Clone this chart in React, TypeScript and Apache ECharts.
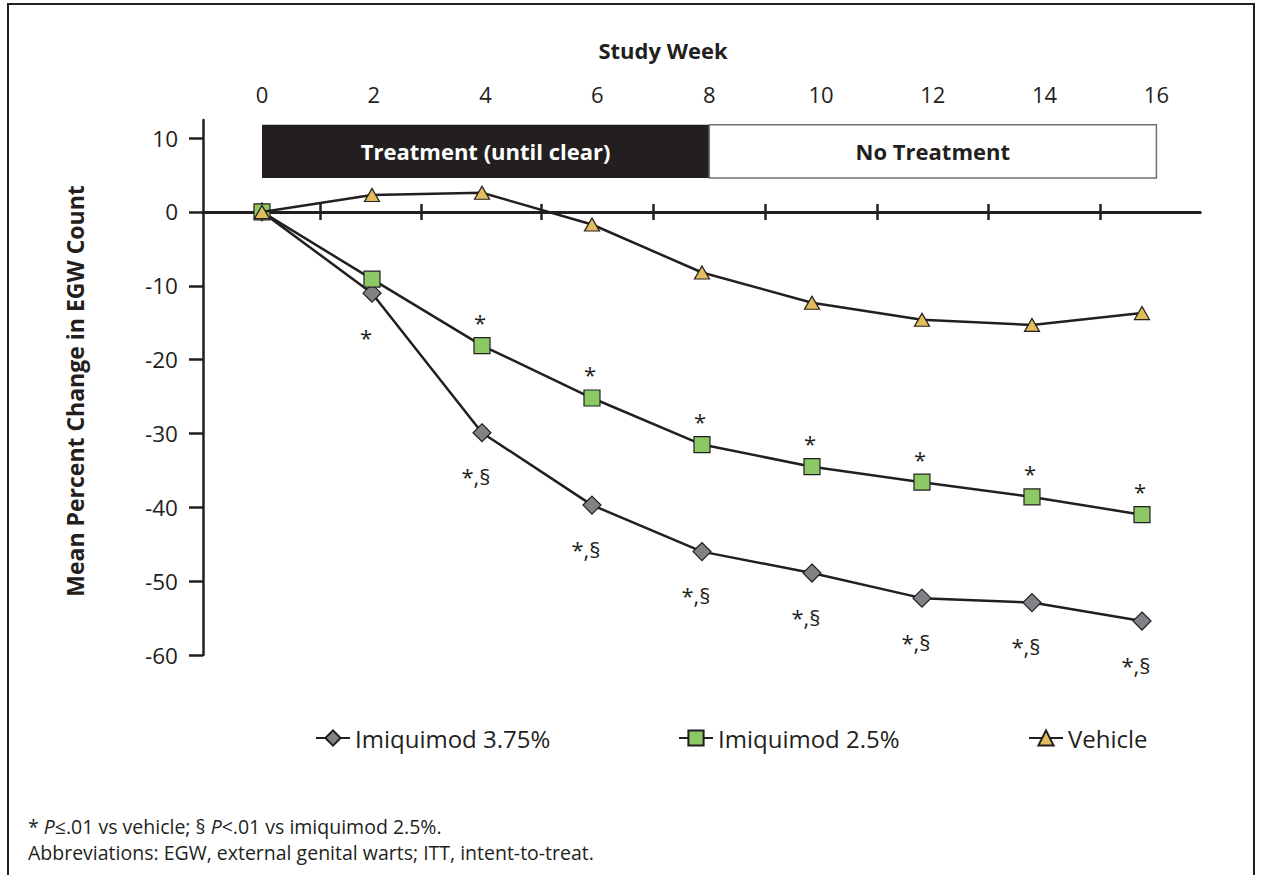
import React, { useEffect, useRef } from "react";
import * as echarts from "echarts";

// ---- data ----
const weeks = [0, 2, 4, 6, 8, 10, 12, 14, 16];
const imiq375 = [0, -11.0, -29.9, -39.7, -46.0, -48.9, -52.3, -52.9, -55.4];
const imiq25 = [0, -9.1, -18.1, -25.2, -31.5, -34.5, -36.6, -38.6, -41.0];
const vehicle = [0, 2.3, 2.6, -1.7, -8.2, -12.3, -14.6, -15.3, -13.7];
const sig375 = ["", "*", "*,§", "*,§", "*,§", "*,§", "*,§", "*,§", "*,§"];
const sig25 = ["", "", "*", "*", "*", "*", "*", "*", "*"];
const seriesNames = ["Imiquimod 3.75%", "Imiquimod 2.5%", "Vehicle"];
const weekTicks = [0, 2, 4, 6, 8, 10, 12, 14, 16];
const yTicks = [-60, -50, -40, -30, -20, -10, 0, 10];
const zeroLineTicks = [1.05, 2.85, 5, 7, 9, 11, 13, 15];
const phaseNames = ["Treatment (until clear)", "No Treatment"];
const phaseFrom = [0, 8];
const phaseTo = [8, 16];

const INK = "#231f20";
const FONT = "'Open Sans', 'Noto Sans', sans-serif";

export default function App() {
  const ref = useRef<HTMLDivElement>(null);
  useEffect(() => {
    document.body.style.margin = "0";
    const chart = echarts.init(ref.current!, null, { renderer: "svg" });

    const mk = (vals: number[], sig: string[]) =>
      weeks.map((w, i) => ({
        value: [w, vals[i]],
        label: { show: sig[i] !== "", formatter: sig[i] || " " },
      }));

    const labelAxisMin = -1.0555;
    const labelAxisMax = 16.78;

    const zeroAxis = (position: string) => ({
      type: "value",
      position,
      min: labelAxisMin,
      max: labelAxisMax,
      axisLine: { show: true, onZero: true, onZeroAxisIndex: 0, lineStyle: { color: INK, width: 3 } },
      axisTick: { show: true, customValues: zeroLineTicks, length: 8, lineStyle: { color: INK, width: 2.5 } },
      axisLabel: { show: false },
      splitLine: { show: false },
    });

    const option: any = {
      animation: false,
      backgroundColor: "#ffffff",
      grid: { left: 203, right: 61, top: 120, bottom: 220 },
      xAxis: [
        {
          type: "value",
          min: -1.0727,
          max: 17.055,
          show: false,
          axisLine: { onZero: false },
        },
        {
          type: "value",
          position: "top",
          min: labelAxisMin,
          max: labelAxisMax,
          axisLine: { show: false, onZero: false },
          axisTick: { show: false },
          splitLine: { show: false },
          axisLabel: {
            customValues: weekTicks,
            margin: 15,
            fontSize: 22,
            color: INK,
            fontFamily: FONT,
          },
        },
        zeroAxis("bottom"),
        zeroAxis("top"),
      ],
      yAxis: {
        type: "value",
        min: -60,
        max: 12.45,
        axisLine: { show: true, onZero: false, lineStyle: { color: INK, width: 2.5 } },
        axisTick: { show: true, customValues: yTicks, length: 14, lineStyle: { color: INK, width: 2.5 } },
        axisLabel: { customValues: yTicks, margin: 25, fontSize: 22.5, color: INK, fontFamily: FONT },
        splitLine: { show: false },
      },
      legend: seriesNames.map((n, i) => ({
        data: [n],
        left: [310, 673, 1023][i],
        top: 721,
        itemWidth: 34,
        itemHeight: 19,
        itemGap: 0,
        selectedMode: false,
        textStyle: { fontSize: 24, color: INK, fontFamily: FONT },
      })),
      series: [
        {
          name: seriesNames[0],
          type: "line",
          xAxisIndex: 0,
          data: mk(imiq375, sig375),
          symbol: "diamond",
          symbolSize: 18,
          itemStyle: { color: "#808285", borderColor: INK, borderWidth: 1.2 },
          lineStyle: { color: INK, width: 2.5 },
          label: { position: "bottom", distance: 23, offset: [-6, 0], fontSize: 22, color: INK, fontFamily: FONT },
          z: 3,
        },
        {
          name: seriesNames[1],
          type: "line",
          xAxisIndex: 0,
          data: mk(imiq25, sig25),
          symbol: "rect",
          symbolSize: 16,
          itemStyle: { color: "#8cc863", borderColor: INK, borderWidth: 1.2 },
          lineStyle: { color: INK, width: 2.5 },
          label: { position: "top", distance: 4, offset: [-2, 0], fontSize: 22, color: INK, fontFamily: FONT },
          z: 4,
        },
        {
          name: seriesNames[2],
          type: "line",
          xAxisIndex: 0,
          data: weeks.map((w, i) => [w, vehicle[i]]),
          symbol: "triangle",
          symbolSize: [15, 13],
          itemStyle: { color: "#e2bd5b", borderColor: INK, borderWidth: 1.2 },
          lineStyle: { color: INK, width: 2.5 },
          z: 5,
        },
        {
          name: "phases",
          type: "line",
          xAxisIndex: 1,
          data: [],
          silent: true,
          markArea: {
            silent: true,
            data: phaseNames.map((n, i) => [
              {
                name: n,
                xAxis: phaseFrom[i],
                yAxis: 11.8,
                itemStyle:
                  i === 0
                    ? { color: INK, borderColor: INK, borderWidth: 0 }
                    : { color: "#ffffff", borderColor: "#6d6e71", borderWidth: 1.5 },
                label: {
                  show: true,
                  position: "inside",
                  color: i === 0 ? "#ffffff" : INK,
                  fontSize: 22,
                  fontWeight: "bold",
                  fontFamily: FONT,
                },
              },
              { xAxis: phaseTo[i], yAxis: 4.6 },
            ]),
          },
        },
      ],
      graphic: [
        {
          type: "polyline",
          silent: true,
          shape: { points: [[8, 880], [8, 4], [1254, 4], [1254, 880]] },
          style: { stroke: INK, lineWidth: 2, fill: null },
        },
        {
          type: "text",
          x: 663,
          y: 50,
          style: {
            text: "Study Week",
            fontSize: 22,
            fontWeight: "bold",
            fontFamily: FONT,
            fill: INK,
            align: "center",
            verticalAlign: "middle",
            textAlign: "center",
            textVerticalAlign: "middle",
          },
        },
        {
          type: "text",
          x: 75,
          y: 391,
          rotation: Math.PI / 2,
          style: {
            text: "Mean Percent Change in EGW Count",
            fontSize: 23,
            fontWeight: "bold",
            fontFamily: FONT,
            fill: INK,
            align: "center",
            verticalAlign: "middle",
            textAlign: "center",
            textVerticalAlign: "middle",
          },
        },
        {
          type: "text",
          x: 28,
          y: 826,
          style: {
            text: "* {i|P}≤.01 vs vehicle; § {i|P}<.01 vs imiquimod 2.5%.",
            fontSize: 19.5,
            fontFamily: FONT,
            fill: INK,
            verticalAlign: "middle",
            textVerticalAlign: "middle",
            rich: { i: { fontStyle: "italic", fontSize: 19.5, fontFamily: FONT, fill: INK, color: INK } },
          },
        },
        {
          type: "text",
          x: 28,
          y: 852,
          style: {
            text: "Abbreviations: EGW, external genital warts; ITT, intent-to-treat.",
            fontSize: 19.5,
            fontFamily: FONT,
            fill: INK,
            verticalAlign: "middle",
            textVerticalAlign: "middle",
          },
        },
      ],
    };

    chart.setOption(option);
    return () => chart.dispose();
  }, []);

  return <div ref={ref} style={{ width: 1261, height: 875 }} />;
}
